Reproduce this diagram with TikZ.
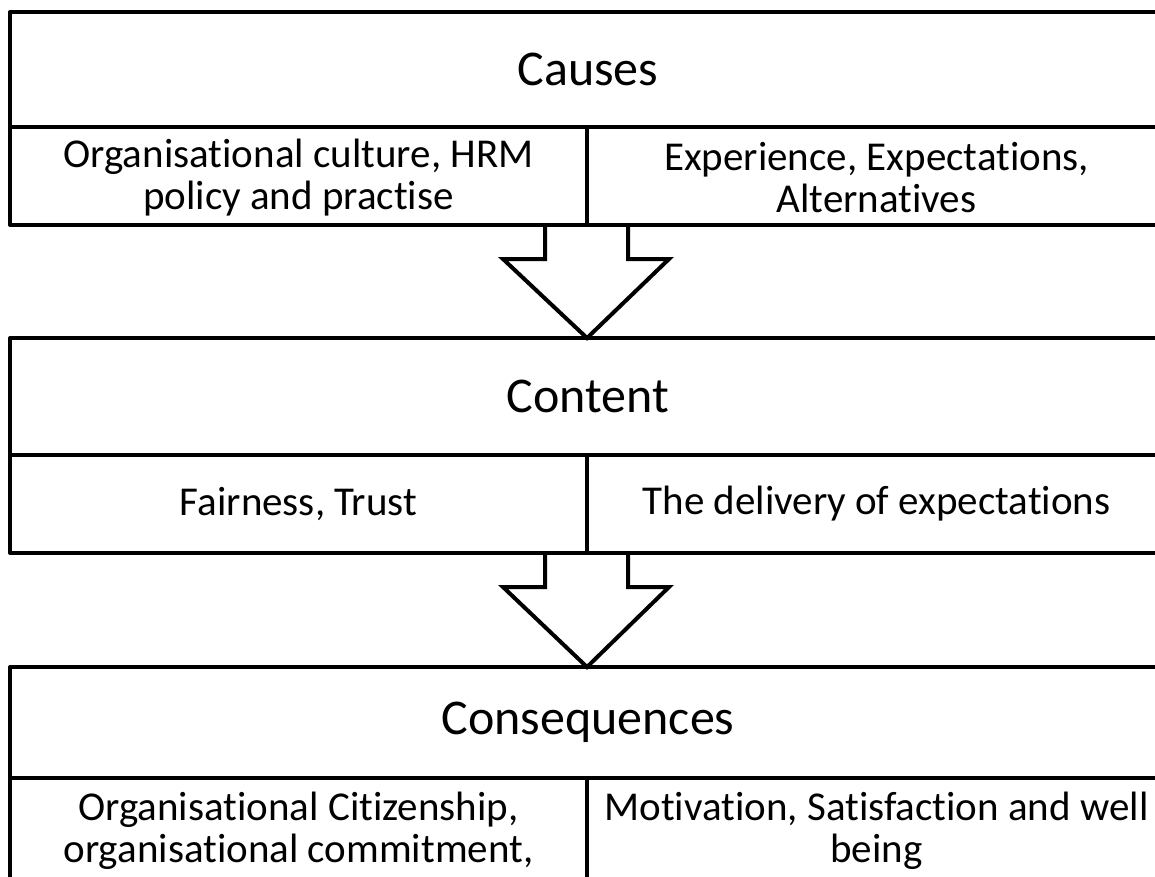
\documentclass[tikz,border=0pt]{standalone}
\usepackage{fontspec}
\setmainfont[Ligatures=NoCommon]{Carlito}
\usetikzlibrary{calc}
\begin{document}
\begin{tikzpicture}[x=1pt,y=-1pt, line width=4pt, line join=round,
  cell/.style={draw, rectangle, inner sep=0pt, outer sep=0pt, anchor=north west},
  bodytext/.style={align=center, inner sep=0pt, font=\fontsize{41}{42}\selectfont},
  titletext/.style={font=\fontsize{50}{60}\selectfont},
  blockarrow/.style={draw, line width=4pt, line join=miter}]
\useasboundingbox (0,0) rectangle (1155,876);
\clip (0,0) rectangle (1155,876);
% Causes
\node[cell, minimum width=1156pt, minimum height=115pt, titletext] (causes) at (10,12) {Causes};
\node[cell, minimum width=577pt, minimum height=98pt] (causesL) at (10,127) {};
\node[cell, minimum width=579pt, minimum height=98pt] (causesR) at (587,127) {};
\node[bodytext] (tCL) at ($(causesL.center)+(0,2)$) {Organisational culture, HRM\\policy and practise};
\node[bodytext] (tCR) at ($(causesR.center)+(0,2)$) {Experience, Expectations,\\Alternatives};
% Content
\node[cell, minimum width=1156pt, minimum height=117pt, titletext] (content) at (10,338) {Content};
\node[cell, minimum width=577pt, minimum height=98pt] (contentL) at (10,455) {};
\node[cell, minimum width=579pt, minimum height=98pt] (contentR) at (587,455) {};
\node[bodytext] (tNL) at (contentL.center) {Fairness, Trust};
\node[bodytext] (tNR) at (contentR.center) {The delivery of expectations};
% Consequences
\node[cell, minimum width=1156pt, minimum height=111pt, titletext] (conseq) at (10,667) {Consequences};
\node[cell, minimum width=577pt, minimum height=140pt] (conseqL) at (10,778) {};
\node[cell, minimum width=579pt, minimum height=140pt] (conseqR) at (587,778) {};
\node[bodytext, anchor=north] (tQL) at ($(conseqL.north)+(0,12)$) {Organisational Citizenship,\\organisational commitment,};
\node[bodytext, anchor=north] (tQR) at ($(conseqR.north)+(0,12)$) {Motivation, Satisfaction and well\\being};
% Arrows
\coordinate (a1) at (causesL.south east);
\coordinate (a2) at (contentL.south east);
\draw[blockarrow] ($(a1)+(-42,0)$) -- ++(0,34) -- ++(-42,0) -- (content.north -| a1) -- ($(a1)+(82,34)$) -- ($(a1)+(41,34)$) -- ($(a1)+(41,0)$);
\draw[blockarrow] ($(a2)+(-42,0)$) -- ++(0,34) -- ++(-42,0) -- (conseq.north -| a2) -- ($(a2)+(82,34)$) -- ($(a2)+(41,34)$) -- ($(a2)+(41,0)$);
\end{tikzpicture}
\end{document}
